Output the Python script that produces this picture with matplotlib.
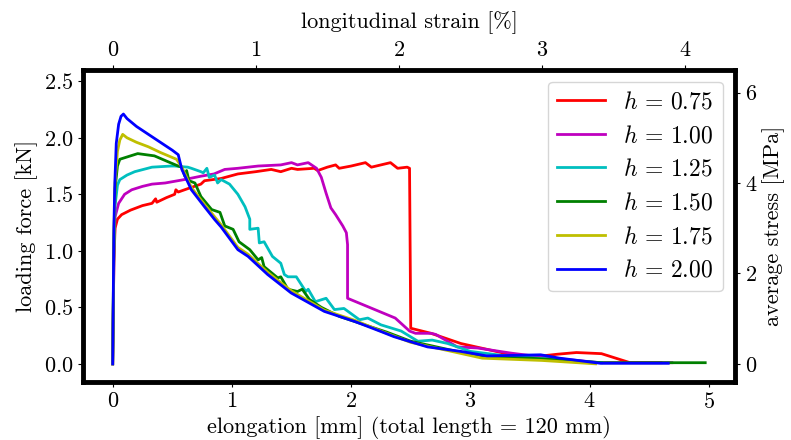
import matplotlib
matplotlib.use("Agg")
import matplotlib.pyplot as plt

plt.rcParams['font.family'] = ['cmr10']
plt.rcParams['mathtext.fontset'] = 'cm'
plt.rcParams['axes.formatter.use_mathtext'] = True
plt.rcParams['font.size'] = 16

# elongation [mm] / loading force [kN]
x_075 = [0, 0.01, 0.02, 0.04, 0.075, 0.15, 0.25, 0.33, 0.36, 0.37, 0.45, 0.52, 0.53, 0.55, 0.63, 0.74,
         0.77, 0.91, 1.05, 1.2, 1.33, 1.41, 1.50, 1.55, 1.69, 1.72, 1.80, 1.87, 1.90, 2.0, 2.12, 2.17,
         2.33, 2.39, 2.47, 2.49, 2.50, 2.67, 2.92, 3.28, 3.42, 3.60, 3.73, 3.89, 4.10, 4.34, 4.60]
y_075 = [0, 0.9, 1.2, 1.28, 1.32, 1.36, 1.40, 1.42, 1.46, 1.43, 1.47, 1.50, 1.54, 1.52, 1.55, 1.59,
         1.62, 1.64, 1.68, 1.70, 1.72, 1.70, 1.73, 1.72, 1.73, 1.71, 1.74, 1.76, 1.73, 1.75, 1.78, 1.74,
         1.78, 1.73, 1.74, 1.73, 0.315, 0.27, 0.18, 0.095, 0.075, 0.07, 0.085, 0.10, 0.09, 0.01, 0.01]

x_100 = [0, 0.01, 0.02, 0.05, 0.10, 0.16, 0.25, 0.33, 0.44, 0.60, 0.74, 0.85, 0.94, 1.05, 1.22, 1.41,
         1.50, 1.55, 1.64, 1.71, 1.75, 1.79, 1.83, 1.87, 1.93, 1.96, 1.97, 1.97, 2.37, 2.49, 2.54, 2.67,
         2.71, 2.89, 3.06, 3.34, 3.60, 4.09, 4.69]
y_100 = [0, 0.9, 1.3, 1.42, 1.50, 1.54, 1.57, 1.59, 1.60, 1.63, 1.66, 1.68, 1.72, 1.73, 1.75, 1.76,
         1.78, 1.76, 1.78, 1.73, 1.65, 1.51, 1.38, 1.32, 1.22, 1.16, 1.055, 0.58, 0.405, 0.29, 0.27, 0.27,
         0.26, 0.15, 0.14, 0.095, 0.06, 0.01, 0.01]

x_125 = [0, 0.01, 0.02, 0.04, 0.06, 0.12, 0.185, 0.33, 0.49, 0.52, 0.63, 0.66, 0.74, 0.76, 0.79, 0.81,
         0.855, 0.88, 0.91, 0.98, 1.05, 1.11, 1.15, 1.15, 1.22, 1.23, 1.27, 1.34, 1.41, 1.44, 1.47,
         1.54, 1.62, 1.64, 1.70, 1.79, 1.86, 1.94, 2.07, 2.14, 2.25, 2.42, 2.56, 2.68, 2.81, 3.0, 3.3,
         3.7, 4.1]
y_125 = [0, 1.0, 1.4, 1.58, 1.63, 1.67, 1.70, 1.74, 1.75, 1.75, 1.74, 1.73, 1.70, 1.69, 1.73, 1.65,
         1.67, 1.60, 1.63, 1.59, 1.50, 1.39, 1.28, 1.19, 1.20, 1.07, 1.08, 0.95, 0.89, 0.79, 0.77,
         0.77, 0.64, 0.66, 0.55, 0.58, 0.48, 0.49, 0.39, 0.405, 0.345, 0.29, 0.20, 0.21, 0.18, 0.11, 0.07,
         0.04, 0.01]

x_150 = [0, 0.01, 0.02, 0.04, 0.06, 0.12, 0.21, 0.35, 0.46, 0.55, 0.58, 0.605, 0.62, 0.64, 0.69, 0.74,
         0.83, 0.90, 0.94, 1.01, 1.06, 1.15, 1.22, 1.25, 1.27, 1.385, 1.41, 1.47, 1.55, 1.59, 1.65, 1.75,
         1.9, 2.1, 2.3, 2.5, 2.8, 3.1, 3.5, 3.8, 4.1, 4.97]
y_150 = [0, 1.1, 1.55, 1.75, 1.81, 1.83, 1.86, 1.84, 1.79, 1.75, 1.74, 1.66, 1.71, 1.62, 1.60, 1.48,
         1.365, 1.34, 1.22, 1.19, 1.08, 1.01, 0.92, 0.94, 0.86, 0.76, 0.77, 0.66, 0.64, 0.66, 0.57, 0.50,
         0.42, 0.35, 0.28, 0.20, 0.13, 0.06, 0.05, 0.03, 0.01, 0.01]

x_175 = [0, 0.01, 0.02, 0.04, 0.06, 0.084, 0.12, 0.2, 0.3, 0.4, 0.535, 0.58, 0.66, 0.77, 0.91, 1.05,
         1.135, 1.30, 1.5, 1.775, 2.03, 2.25, 2.5, 2.8, 3.1, 3.6, 4.05]
y_175 = [0, 1.1, 1.6, 1.88, 1.98, 2.03, 2.00, 1.96, 1.92, 1.87, 1.81, 1.74, 1.56, 1.41, 1.23, 1.03,
         0.97, 0.81, 0.645, 0.475, 0.385, 0.29, 0.19, 0.12, 0.05, 0.03, 0.0]

x_200 = [0, 0.005, 0.01, 0.018, 0.03, 0.05, 0.07, 0.09, 0.12, 0.2, 0.3, 0.4, 0.5, 0.55, 0.58, 0.66,
         0.77, 0.855, 0.91, 1.05, 1.135, 1.30, 1.497, 1.775, 2.03, 2.25, 2.36, 2.64, 2.92, 3.14, 3.59,
         3.75, 4.09, 4.66]
y_200 = [0, 0.6, 1.2, 1.6, 1.95, 2.12, 2.19, 2.21, 2.17, 2.10, 2.03, 1.96, 1.89, 1.85, 1.72, 1.54,
         1.39, 1.277, 1.21, 1.01, 0.951, 0.79, 0.627, 0.464, 0.375, 0.286, 0.24, 0.15, 0.11, 0.07, 0.08,
         0.05, 0.005, 0.005]

labels = [r'$h \,=\, 0.75$', r'$h \,=\, 1.00$', r'$h \,=\, 1.25$',
          r'$h \,=\, 1.50$', r'$h \,=\, 1.75$', r'$h \,=\, 2.00$']
colors = ['r', 'm', 'c', 'g', 'y', 'b']
series = [(x_075, y_075), (x_100, y_100), (x_125, y_125), (x_150, y_150), (x_175, y_175), (x_200, y_200)]

total_length = 120.0  # mm
area_factor = 2.5     # MPa per kN

fig = plt.figure(figsize=(7.91, 4.40), dpi=100)
ax = fig.add_axes([0.105, 0.132, 0.824, 0.709])
for (xs, ys), lab, c in zip(series, labels, colors):
    ax.plot(xs, ys, color=c, lw=2.0, label=lab)

ax.set_ylim(-0.16, 2.6)
ax.set_xticks([0, 1, 2, 3, 4, 5])
ax.set_yticks([0.0, 0.5, 1.0, 1.5, 2.0, 2.5])
ax.set_xlabel('elongation [mm] (total length = 120 mm)', labelpad=3)
ax.set_ylabel('loading force [kN]')
for s in ax.spines.values():
    s.set_linewidth(3.5)

top = ax.secondary_xaxis('top', functions=(lambda v: v / total_length * 100,
                                           lambda p: p * total_length / 100))
top.set_xticks([0, 1, 2, 3, 4])
top.set_xlabel('longitudinal strain [%]', labelpad=9)
right = ax.secondary_yaxis('right', functions=(lambda f: f * area_factor,
                                               lambda s: s / area_factor))
right.set_yticks([0, 2, 4, 6])
right.set_ylabel('average stress [MPa]')

ax.legend(loc='upper right', fontsize=17, handlelength=2.0, labelspacing=0.49)
fig.savefig('out.png', dpi=100)
